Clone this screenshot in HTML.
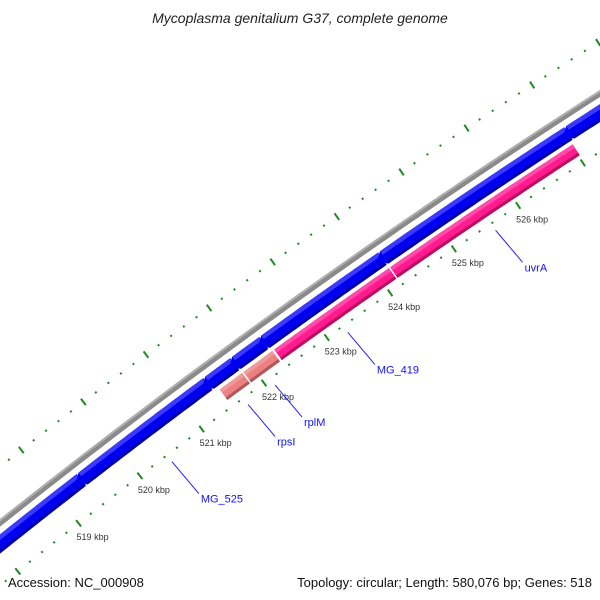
<!DOCTYPE html>
<html><head><meta charset="utf-8"><style>
body{margin:0;background:#fff;overflow:hidden}
svg{display:block;font-family:"Liberation Sans",sans-serif}
</style></head><body>
<svg id="map" width="600" height="600" viewBox="0 0 600 600">
<text x="300" y="23" text-anchor="middle" font-size="14" font-style="italic" fill="#222">Mycoplasma genitalium G37, complete genome</text>
<g id="layer"></g>
<text x="8" y="587" font-size="13" fill="#111">Accession: NC_000908</text>
<text x="592" y="587" text-anchor="end" font-size="13" fill="#111">Topology: circular; Length: 580,076 bp; Genes: 518</text>
</svg>
<script>
// data (positions in kbp)
const reverseStart = [517.0, 519.40, 521.44, 521.87, 522.33, 524.20, 527.08];
const reverseEnd   = [519.37, 521.41, 521.84, 522.30, 524.17, 527.05, 530.0];
const forwardStart = [521.49, 521.87, 522.36, 524.19];
const forwardEnd   = [521.85, 522.33, 524.17, 527.02];
const forwardKind  = ["rRNA", "rRNA", "cds", "cds"];
const geneNames = ["MG_525", "rpsI", "rplM", "MG_419", "uvrA"];
const geneAnchor = [520.44, 521.67, 522.10, 523.26, 525.58];
const tickMajor = [519, 520, 521, 522, 523, 524, 525, 526];
const tickLabels = ["519 kbp","520 kbp","521 kbp","522 kbp","523 kbp","524 kbp","525 kbp","526 kbp"];

const NS="http://www.w3.org/2000/svg";
const layer=document.getElementById('layer');
const R0=7155, DT=2*Math.PI/580.076, TH0=Math.atan2(-0.807,-0.59);
const CX=264-R0*Math.cos(TH0), CY=383-R0*Math.sin(TH0);
function pt(p,d){const t=TH0+(p-522)*DT;return [CX+(R0+d)*Math.cos(t),CY+(R0+d)*Math.sin(t)];}
function mk(tag,attrs){const e=document.createElementNS(NS,tag);for(const k in attrs)e.setAttribute(k,attrs[k]);layer.appendChild(e);return e;}
function band(p1,p2,d1,d2,fill,arrowLeft){
  const pts=[];const n=30;
  for(let i=0;i<=n;i++){pts.push(pt(p1+(p2-p1)*i/n,d2));}
  for(let i=n;i>=0;i--){pts.push(pt(p1+(p2-p1)*i/n,d1));}
  if(arrowLeft){pts.push(pt(p1-0.12,(d1+d2)/2));}
  return mk('polygon',{points:pts.map(q=>q[0].toFixed(1)+','+q[1].toFixed(1)).join(' '),fill:fill});
}
let e=band(515,532,46,52,'#8a8a8a');


e=band(515,532,50,52,'#b0b0b0');


for(let i=0;i<reverseStart.length;i++){
  e=band(reverseStart[i],reverseEnd[i],25,40,'#0000f0',true);
  
  
  e=band(reverseStart[i],reverseEnd[i],35.5,40,'#3a3aff',false);
  
  
  e=band(reverseStart[i],reverseEnd[i],25,28,'#0000a8',false);
  
  
}
for(let i=0;i<forwardStart.length;i++){
  const rr=forwardKind[i]==='rRNA';
  e=band(forwardStart[i],forwardEnd[i],8,21,rr?'#ec8080':'#ff1a90');
  
  
  e=band(forwardStart[i],forwardEnd[i],17,21,rr?'#f09a9a':'#ff4aa8');
  
  
  e=band(forwardStart[i],forwardEnd[i],8,11,rr?'#b05858':'#b8105e');
  
  
}
const G='#1f8a1f';
for(let k=5170;k<=5300;k+=2){
  const p=k/10;const major=(k%10===0);
  for(const base of [0,93]){
    const a=pt(p,base+(major?4:1)),b=pt(p,base-(major?4:1));
    e=mk('line',{x1:a[0],y1:a[1],x2:b[0],y2:b[1],stroke:G,'stroke-width':2});
    
    
  }
}
for(let i=0;i<tickMajor.length;i++){
  const q=pt(tickMajor[i],0);
  e=mk('text',{x:q[0]+14,y:q[1]+17,'text-anchor':'middle','font-size':9,fill:'#333'});
  e.textContent=tickLabels[i];
  
  
}
for(let i=0;i<geneNames.length;i++){
  const q=pt(geneAnchor[i],-8);
  e=mk('line',{x1:q[0],y1:q[1],x2:q[0]+27,y2:q[1]+32,stroke:'#2020ff','stroke-width':1});
  
  
  e=mk('text',{x:q[0]+29,y:q[1]+41,'font-size':11,fill:'#1010ff'});
  e.textContent=geneNames[i];
  
  
}
</script>
</body></html>
